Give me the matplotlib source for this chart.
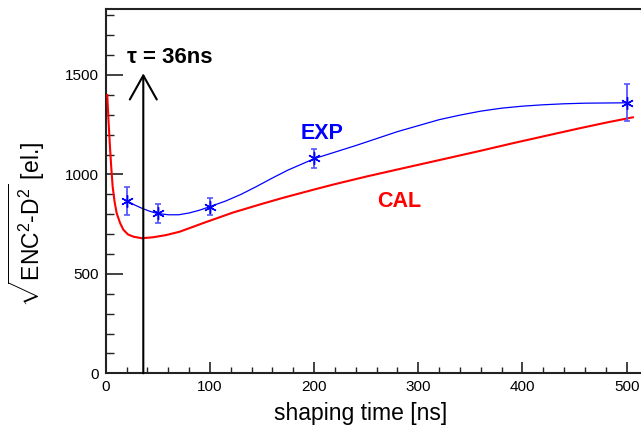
import matplotlib
matplotlib.use('Agg')
import matplotlib.pyplot as plt
from matplotlib.ticker import MultipleLocator

plt.rcParams['font.family'] = ['Liberation Sans', 'DejaVu Sans']
plt.rcParams['mathtext.fontset'] = 'custom'
plt.rcParams['mathtext.rm'] = 'Liberation Sans'
plt.rcParams['mathtext.it'] = 'Liberation Sans:italic'
plt.rcParams['mathtext.bf'] = 'Liberation Sans:bold'

# Measured points (EXP) with error bars
exp_t = [20, 50, 100, 200, 500]
exp_v = [868, 804, 838, 1081, 1360]
exp_err = [70, 47, 43, 48, 94]

# EXP smooth curve
exp_curve_t = [20, 27, 34.5, 42, 49, 60, 70, 80, 90, 100, 115, 130, 145, 160, 175, 190, 200,
               220, 240, 260, 280, 300, 320, 340, 360, 380, 400, 420, 440, 460, 480, 500]
exp_curve_v = [868, 848, 830, 815, 804, 797, 797, 806, 820, 838, 866, 900, 940, 982, 1022, 1056, 1079,
               1112, 1145, 1180, 1215, 1245, 1275, 1298, 1318, 1333, 1343, 1350, 1355, 1358, 1359, 1360]

# CAL curve
cal_t = [1.4, 2.7, 4, 5.3, 6.6, 8.5, 10.5, 13.6, 16.8, 21.3, 26.4, 34.5, 45.6, 58, 71, 95,
         122, 150, 170, 200, 220, 250, 282, 327, 360, 391, 425, 455, 480, 506]
cal_v = [1399, 1260, 1139, 1030, 938, 860, 804, 757, 722, 698, 687, 679, 684, 695, 712, 758,
         808, 852, 882, 924, 951, 989, 1027, 1080, 1119, 1157, 1197, 1232, 1260, 1287]

tau = 36
arrow_top = 1508

fig = plt.figure(figsize=(6.41, 4.33), dpi=100)
ax = fig.add_axes([105.8 / 641, 1 - 373.3 / 433, 1 - 105.8 / 641, (373.3 - 9.3) / 433])

ax.plot(cal_t, cal_v, color='#ff0000', lw=1.5, zorder=3, solid_joinstyle='round')
ax.plot(exp_curve_t, exp_curve_v, color='#0000ff', lw=0.9, zorder=3, solid_joinstyle='round')
ax.errorbar(exp_t, exp_v, yerr=exp_err, fmt='none', ecolor='#5555ff',
            elinewidth=1.3, capsize=2.5, capthick=1.2, zorder=4)
ax.plot(exp_t, exp_v, ls='none', marker=(6, 2, 0), ms=9, mec='#0000ff', mew=1.0, zorder=5)

ax.annotate('', xy=(tau, arrow_top), xytext=(tau, 0),
            arrowprops=dict(arrowstyle='->,head_length=1.73,head_width=0.97',
                            lw=1.5, color='black', shrinkA=0, shrinkB=0,
                            mutation_scale=10), zorder=6)
ax.text(20, 1559, 'τ = 36ns', fontsize=16, fontweight='bold', ha='left', va='baseline')
ax.text(208, 1205, 'EXP', color='#0000ff', fontsize=15.5, fontweight='bold', ha='center', va='center')
ax.text(282, 865, 'CAL', color='#ff0000', fontsize=15.5, fontweight='bold', ha='center', va='center')

ax.set_xlim(0, 513.8)
ax.set_ylim(0, 1830)
ax.xaxis.set_major_locator(MultipleLocator(100))
ax.xaxis.set_minor_locator(MultipleLocator(20))
ax.yaxis.set_major_locator(MultipleLocator(500))
ax.yaxis.set_minor_locator(MultipleLocator(100))
ax.tick_params(axis='both', which='both', direction='in', labelsize=11, colors='#222222')
ax.tick_params(axis='x', which='major', length=8, width=1.2, pad=5)
ax.tick_params(axis='x', which='minor', length=4, width=1.0)
ax.tick_params(axis='y', which='major', length=12, width=1.2, pad=5)
ax.tick_params(axis='y', which='minor', length=6, width=1.0)
ax.tick_params(labelcolor='black')
ax.spines['right'].set_visible(False)
for s in ['left', 'bottom', 'top']:
    ax.spines[s].set_linewidth(1.5)
    ax.spines[s].set_color('#222222')

ax.set_xlabel('shaping time [ns]', fontsize=16.5)
ax.xaxis.set_label_coords(0.477, -0.08)
ax.set_ylabel(r'$\sqrt{\mathrm{ENC}^{2}\text{-}\mathrm{D}^{2}}$ [el.]', fontsize=16.5)
ax.yaxis.set_label_coords(-0.11, 0.41)

fig.savefig('out.png', dpi=100)
